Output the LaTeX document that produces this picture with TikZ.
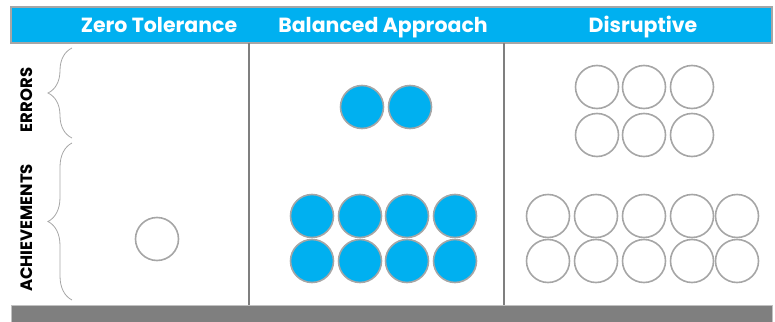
\documentclass[tikz,border=0pt]{standalone}
\usepackage{fontspec}
\setmainfont{Poppins}
\usetikzlibrary{decorations.pathreplacing}
\definecolor{skyblue}{HTML}{00B0F0}
\definecolor{rimgray}{HTML}{A6A6A6}
\definecolor{bargray}{HTML}{7F7F7F}
\tikzset{
  dot/.style={
    shape = circle,
    minimum size = 43pt,
    inner sep = 0pt,
    draw = rimgray,
    line width = 1.6pt,
    fill = white
  },
  blue dot/.style={
    dot,
    fill = skyblue
  },
  head/.style={
    font = \bfseries\fontsize{20.5}{20.5}\selectfont,
    text = white,
    anchor = base,
    inner sep = 0pt
  },
  side/.style={
    font = \bfseries\fontsize{16.5}{16.5}\selectfont,
    rotate = 90,
    inner sep = 0pt
  },
  bracket/.style={
    decorate,
    decoration = {brace, amplitude=24pt},
    draw = rimgray,
    line width = 0.8pt
  }
}
\begin{document}
\begin{tikzpicture}[x=1pt, y=-1pt]
        \useasboundingbox (0,0) rectangle (775,321);

        % header and footer bars
        \draw[fill=skyblue, draw=rimgray, line width=1.4pt] (11,7) rectangle (772,43);
        \draw[fill=bargray, draw=rimgray!70, line width=1pt] (11,305) rectangle (772,323);

        % column rules
        \coordinate (c1top) at (249,43);
        \coordinate (c1bot) at (249,305);
        \coordinate (c2top) at (504,43);
        \coordinate (c2bot) at (504,305);
        \draw[bargray, line width=1.4pt] (c1top) -- (c1bot);
        \draw[bargray, line width=1.4pt] (c2top) -- (c2bot);

        \node[head] (zero) at (159,33) {Zero Tolerance};
        \node[head] (balanced) at (383,33) {Balanced Approach};
        \node[head] (disrupt) at (643,33) {Disruptive};

        % row labels and braces
        \node[side] (errors) at (27,100) {ERRORS};
        \node[side] (achieve) at (27,228) {ACHIEVEMENTS};
        \coordinate (errlo) at (72,138);
        \coordinate (errhi) at (72,48);
        \coordinate (achlo) at (72,300);
        \coordinate (achhi) at (72,143);
        \draw[bracket] (errlo) -- (errhi);
        \draw[bracket] (achlo) -- (achhi);

        % zero tolerance
        \node[dot] (z1) at (157,239) {};

        % balanced approach
        \node[blue dot] (be1) at (362,107) {};
        \node[blue dot] (be2) at (410,107) {};
        \foreach \i/\x in {1/312,2/360,3/407,4/455}{
            \node[blue dot] (ba\i) at (\x,216) {};
            \node[blue dot] (bb\i) at (\x,261) {};
        }

        % disruptive
        \foreach \i/\x in {1/597,2/644,3/692}{
            \node[dot] (de\i) at (\x,87) {};
            \node[dot] (df\i) at (\x,135) {};
        }
        \foreach \i/\x in {1/548,2/596,3/644,4/692,5/737}{
            \node[dot] (da\i) at (\x,216) {};
            \node[dot] (db\i) at (\x,261) {};
        }
\end{tikzpicture}
\end{document}
